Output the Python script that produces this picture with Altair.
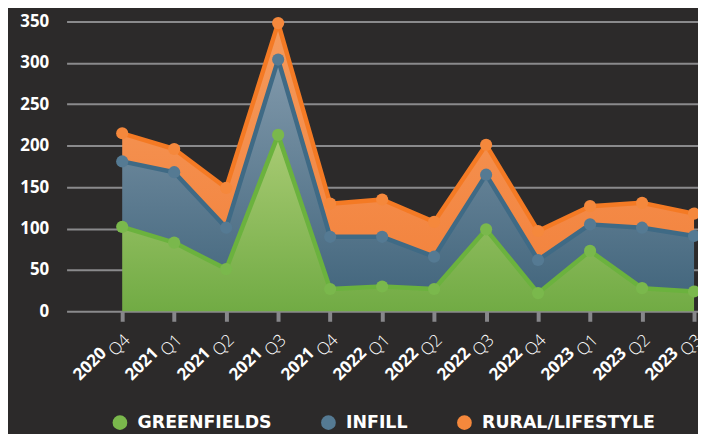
import altair as alt
import pandas as pd

quarters = ["2020 Q4", "2021 Q1", "2021 Q2", "2021 Q3", "2021 Q4", "2022 Q1",
            "2022 Q2", "2022 Q3", "2022 Q4", "2023 Q1", "2023 Q2", "2023 Q3"]
series_names = ["GREENFIELDS", "INFILL", "RURAL/LIFESTYLE"]
greenfields = [102, 83, 51, 213, 27, 30, 27, 99, 22, 73, 28, 24]
infill = [79, 85, 50, 91, 63, 60, 39, 66, 40, 32, 73, 67]
rural = [34, 28, 48, 44, 40, 45, 42, 36, 35, 22, 30, 27]
y_ticks = [0, 50, 100, 150, 200, 250, 300, 350]

rows = []
for i, q in enumerate(quarters):
    b = 0
    for name, vals in zip(series_names, [greenfields, infill, rural]):
        rows.append({"idx": i, "quarter": q, "series": name, "value": vals[i],
                     "bottom": b, "top": b + vals[i]})
        b += vals[i]
df = pd.DataFrame(rows)

q_arr = "[" + ",".join("'%s'" % q for q in quarters) + "]"
x_scale = alt.Scale(domain=[-1.07, 11.076], nice=False, zero=False)
common = dict(values=list(range(len(quarters))), title=None, grid=False, domain=False,
              orient="bottom", labelAngle=-45, labelAlign="right",
              labelBaseline="middle", labelOverlap=False, labelBound=False,
              labelFlush=False, labelColor="#ffffff", labelFontSize=17)
axis_quarter = alt.Axis(labelExpr="split(%s[datum.value], ' ')[1]" % q_arr,
                        ticks=True, tickColor="#87878a", tickWidth=4, tickSize=10,
                        labelPadding=16, labelOffset=5,
                        labelFont="Open Sans", labelFontWeight=300, **common)
axis_year = alt.Axis(labelExpr="split(%s[datum.value], ' ')[0]" % q_arr,
                     ticks=False, tickSize=10, labelPadding=39, labelOffset=-19,
                     labelFont="Open Sans", labelFontWeight="bold", **common)

y_scale = alt.Scale(domain=[0, 350], nice=False)
y_axis = alt.Axis(values=y_ticks, title=None, domain=False, ticks=False,
                  grid=True, gridColor="#8a8a8c", gridWidth=2,
                  labelColor="#ffffff", labelFont="Open Sans", labelFontWeight="bold",
                  labelFontSize=17, labelPadding=18)

base = alt.Chart(df)

def grad(top, bottom):
    return alt.Gradient(gradient="linear",
                        stops=[alt.GradientStop(color=top, offset=0),
                               alt.GradientStop(color=bottom, offset=1)],
                        x1=0, x2=0, y1=0, y2=1)

fills = {"GREENFIELDS": grad("#a9cb74", "#71ab44"),
         "INFILL": grad("#8199ab", "#44677e"),
         "RURAL/LIFESTYLE": grad("#f59a5c", "#f3843f")}
line_cols = {"GREENFIELDS": "#6bb23e", "INFILL": "#3f6a85", "RURAL/LIFESTYLE": "#f47a24"}
pt_cols = ["#7ab84c", "#557a93", "#f5883c"]

layers = []
for k, name in enumerate(series_names):
    xa = axis_quarter if k == 0 else None
    layers.append(base.transform_filter(alt.datum.series == name).mark_area(
        color=fills[name], opacity=1).encode(
        x=alt.X("idx:Q", scale=x_scale, axis=xa),
        y=alt.Y("top:Q", scale=y_scale, axis=y_axis), y2="bottom:Q"))

for name in ["RURAL/LIFESTYLE", "INFILL", "GREENFIELDS"]:
    layers.append(base.transform_filter(alt.datum.series == name).mark_line(
        color=line_cols[name], strokeWidth=4.5, strokeJoin="round").encode(
        x=alt.X("idx:Q", scale=x_scale, axis=None),
        y=alt.Y("top:Q", scale=y_scale, axis=y_axis)))

layers.append(base.mark_circle(size=150, opacity=1).encode(
    x=alt.X("idx:Q", scale=x_scale, axis=axis_year),
    y=alt.Y("top:Q", scale=y_scale, axis=y_axis),
    color=alt.Color("series:N",
                    scale=alt.Scale(domain=series_names, range=pt_cols),
                    sort=series_names,
                    legend=alt.Legend(title=None, orient="none", direction="horizontal",
                                      legendX=45, legendY=395,
                                      symbolType="circle", symbolSize=220,
                                      symbolStrokeWidth=0, symbolOpacity=1,
                                      labelColor="#ffffff", labelFont="DejaVu Sans",
                                      labelFontWeight="bold", labelFontSize=17.5,
                                      labelLimit=400,
                                      columnPadding=48, labelOffset=9))))

chart = alt.layer(*layers).resolve_scale(x="independent").properties(
    width=636, height=292,
    autosize=alt.AutoSizeParams(type="none"),
    padding={"left": 59, "top": 12, "right": 0, "bottom": 122},
    background="#2c2a2a",
).configure_view(stroke=None)

chart.save("out.html", embed_options={"renderer": "svg", "actions": False})
